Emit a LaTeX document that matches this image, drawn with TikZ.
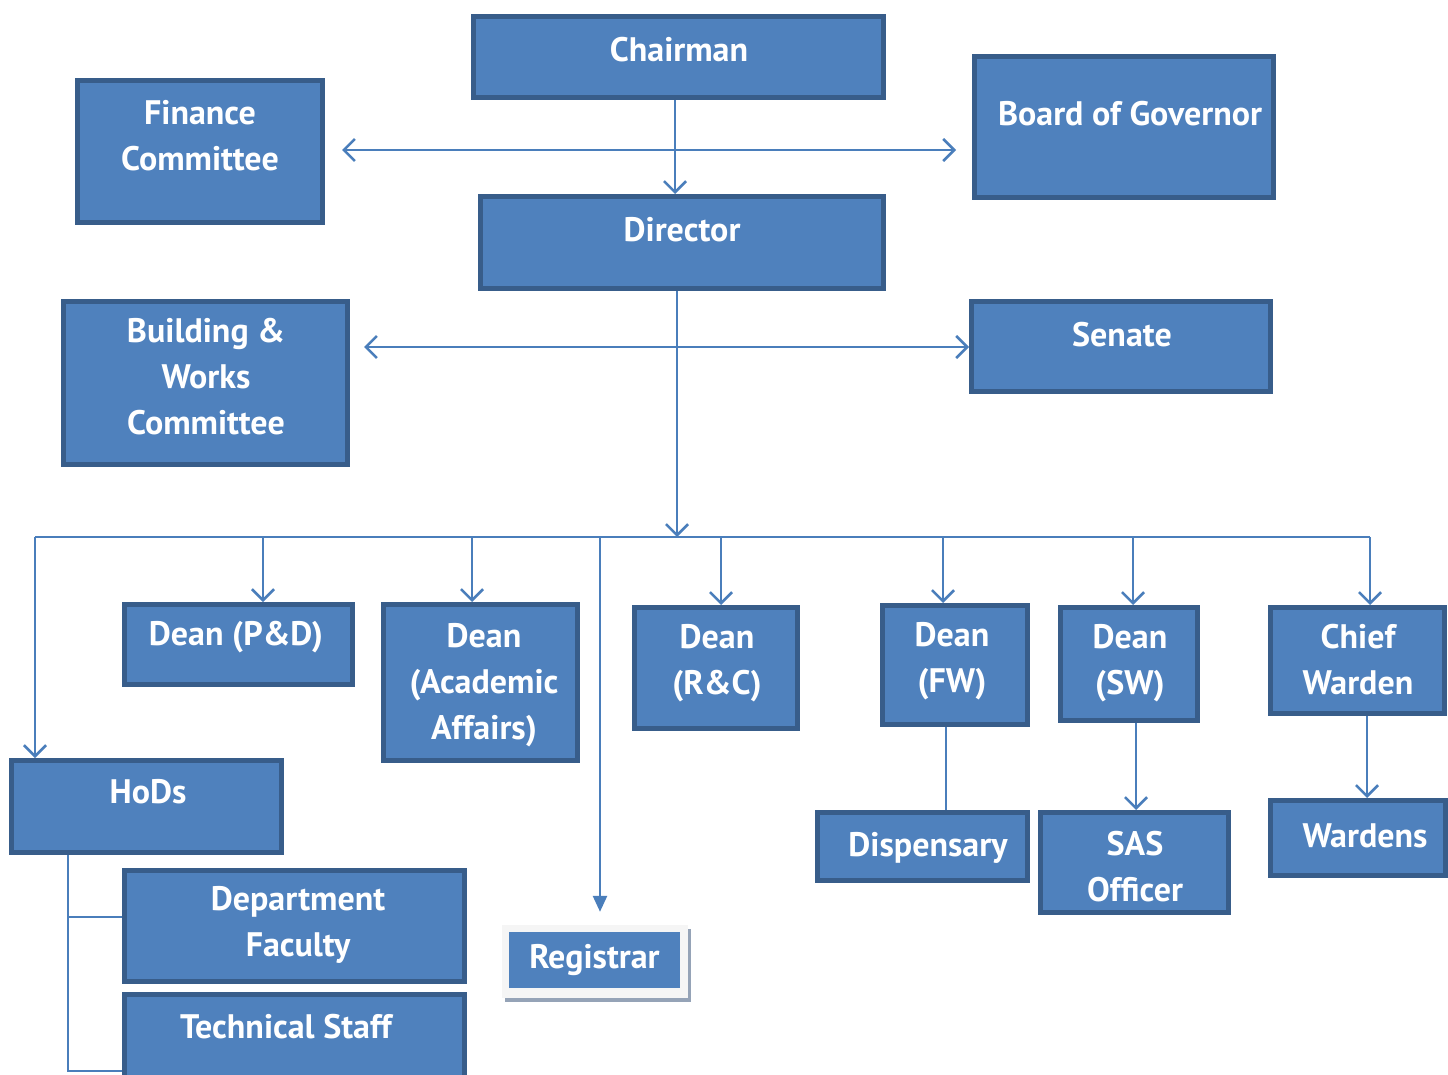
\documentclass[tikz,border=0pt]{standalone}
\usepackage{fontspec}
\setmainfont{PT Sans}
\usetikzlibrary{arrows.meta,shadows}
\definecolor{boxfill}{HTML}{4F81BD}
\definecolor{boxline}{HTML}{385D8A}
\definecolor{linkblue}{HTML}{4A7EBB}
\definecolor{shade}{HTML}{95A3B7}
\tikzset{
  unit/.style={draw=boxline,fill=boxfill,line width=5pt,inner sep=0pt},
  lbl/.style={text=white,font=\fontsize{34}{46}\selectfont\bfseries,align=center,inner sep=0pt},
  link/.style={draw=linkblue,line width=2.6pt},
  arr/.style={link,-{Straight Barb[length=11pt,width=22pt]}},
  both/.style={link,{Straight Barb[length=11pt,width=22pt]}-{Straight Barb[length=11pt,width=22pt]}},
}
\begin{document}
\begin{tikzpicture}[x=1pt,y=-1pt]
  \useasboundingbox (0,0) rectangle (1448,1075);
  \clip (0,0) rectangle (1448,1075);
  \fill[white] (0,0) rectangle (1448,1075);
  % top
  \node[unit,minimum width=410pt,minimum height=81pt] (C) at (678.5,57) {};
  \node[lbl] (Ct) at (679,50) {Chairman};
  \node[unit,minimum width=403pt,minimum height=92pt] (D) at (682,242.5) {};
  \node[lbl] (Dt) at (682,230) {Director};
  \node[unit,minimum width=245pt,minimum height=142pt] (FC) at (200,151.5) {};
  \node[lbl] (FCt) at (200,136) {Finance\\Committee};
  \node[unit,minimum width=299pt,minimum height=141pt] (BG) at (1124,127) {};
  \node[lbl] (BGt) at (1130,114) {Board of Governor};
  \node[unit,minimum width=284pt,minimum height=163pt] (BW) at (205.5,383) {};
  \node[lbl] (BWt) at (206,377) {Building \&\\Works\\Committee};
  \node[unit,minimum width=299pt,minimum height=90pt] (S) at (1121,346.5) {};
  \node[lbl] (St) at (1122,335) {Senate};
  % deans
  \node[unit,minimum width=228pt,minimum height=80pt] (PD) at (238.5,644.5) {};
  \node[lbl] (PDt) at (236,637) {Dean (P\&D)};
  \node[unit,minimum width=194pt,minimum height=156pt] (AA) at (480.5,682.5) {};
  \node[lbl] (AAt) at (484,685) {Dean\\(Academic\\Affairs)};
  \node[unit,minimum width=163pt,minimum height=121pt] (RC) at (716,668) {};
  \node[lbl] (RCt) at (717,663) {Dean\\(R\&C)};
  \node[unit,minimum width=145pt,minimum height=119pt] (FW) at (955,665) {};
  \node[lbl] (FWt) at (952,661) {Dean\\(FW)};
  \node[unit,minimum width=137pt,minimum height=113pt] (SW) at (1129,664) {};
  \node[lbl] (SWt) at (1130,663) {Dean\\(SW)};
  \node[unit,minimum width=174pt,minimum height=106pt] (CW) at (1357.5,660.5) {};
  \node[lbl] (CWt) at (1358,660) {Chief\\Warden};
  % lower
  \node[unit,minimum width=270pt,minimum height=92pt] (H) at (146.5,806.5) {};
  \node[lbl] (Ht) at (148,792) {HoDs};
  \node[unit,minimum width=210pt,minimum height=68pt] (Di) at (922.5,846.5) {};
  \node[lbl] (Dit) at (928,848) {Dispensary};
  \node[unit,minimum width=188pt,minimum height=100pt] (SAS) at (1134.5,862.5) {};
  \node[lbl] (SASt) at (1135,867) {SAS\\Officer};
  \node[unit,minimum width=175pt,minimum height=75pt] (W) at (1358,838) {};
  \node[lbl] (Wt) at (1365,836) {Wardens};
  \node[unit,minimum width=340pt,minimum height=111pt] (DF) at (294.5,926) {};
  \node[lbl] (DFt) at (298,925) {Department\\Faculty};
  \node[unit,minimum width=340pt,minimum height=88pt] (TS) at (294.5,1038.5) {};
  \node[lbl] (TSt) at (286,1027) {Technical Staff};
  \node[fill=gray!8,minimum width=186pt,minimum height=73pt,inner sep=0pt,
    general shadow={fill=shade,shadow xshift=3pt,shadow yshift=-4pt}] (R) at (595,961.5) {};
  \node[lbl,fill=boxfill,minimum width=171pt,minimum height=56pt] (Rt) at (594.5,960) {Registrar};
  % connectors
  \coordinate (j1) at (675,150);
  \coordinate (j2) at (677,347);
  \draw[arr] (C.south -| j1) -- (D.north -| j1);
  \draw[both,shorten <=17pt,shorten >=16pt] (FC.east |- j1) -- (BG.west |- j1);
  \draw[both,shorten <=14pt] (BW.east |- j2) -- (S.west |- j2);
  \coordinate (busL) at (35,537);
  \coordinate (busR) at (1370,537);
  \coordinate (bus) at (677,537);
  \draw[arr] (D.south -| bus) -- (bus);
  \draw[link] (busL) -- (busR);
  \draw[arr] (busL) -- (busL |- H.north);
  \foreach \x/\n in {263/PD,472/AA,721/RC,943/FW,1133/SW,1370/CW}
    \draw[arr] (\x,537) -- (\x,0 |- \n.north);
  \draw[link,-{Triangle[length=16pt,width=14pt]},shorten >=13pt] (600,537) -- (600,0 |- R.north);
  \draw[link] (946,0 |- FW.south) -- (946,0 |- Di.north);
  \draw[arr] (1136,0 |- SW.south) -- (1136,0 |- SAS.north);
  \draw[arr] (1367,0 |- CW.south) -- (1367,0 |- W.north);
  \draw[link] (68,0 |- H.south) -- (68,1071) -- (TS.west |- 0,1071);
  \draw[link] (68,917) -- (DF.west |- 0,917);
\end{tikzpicture}
\end{document}
